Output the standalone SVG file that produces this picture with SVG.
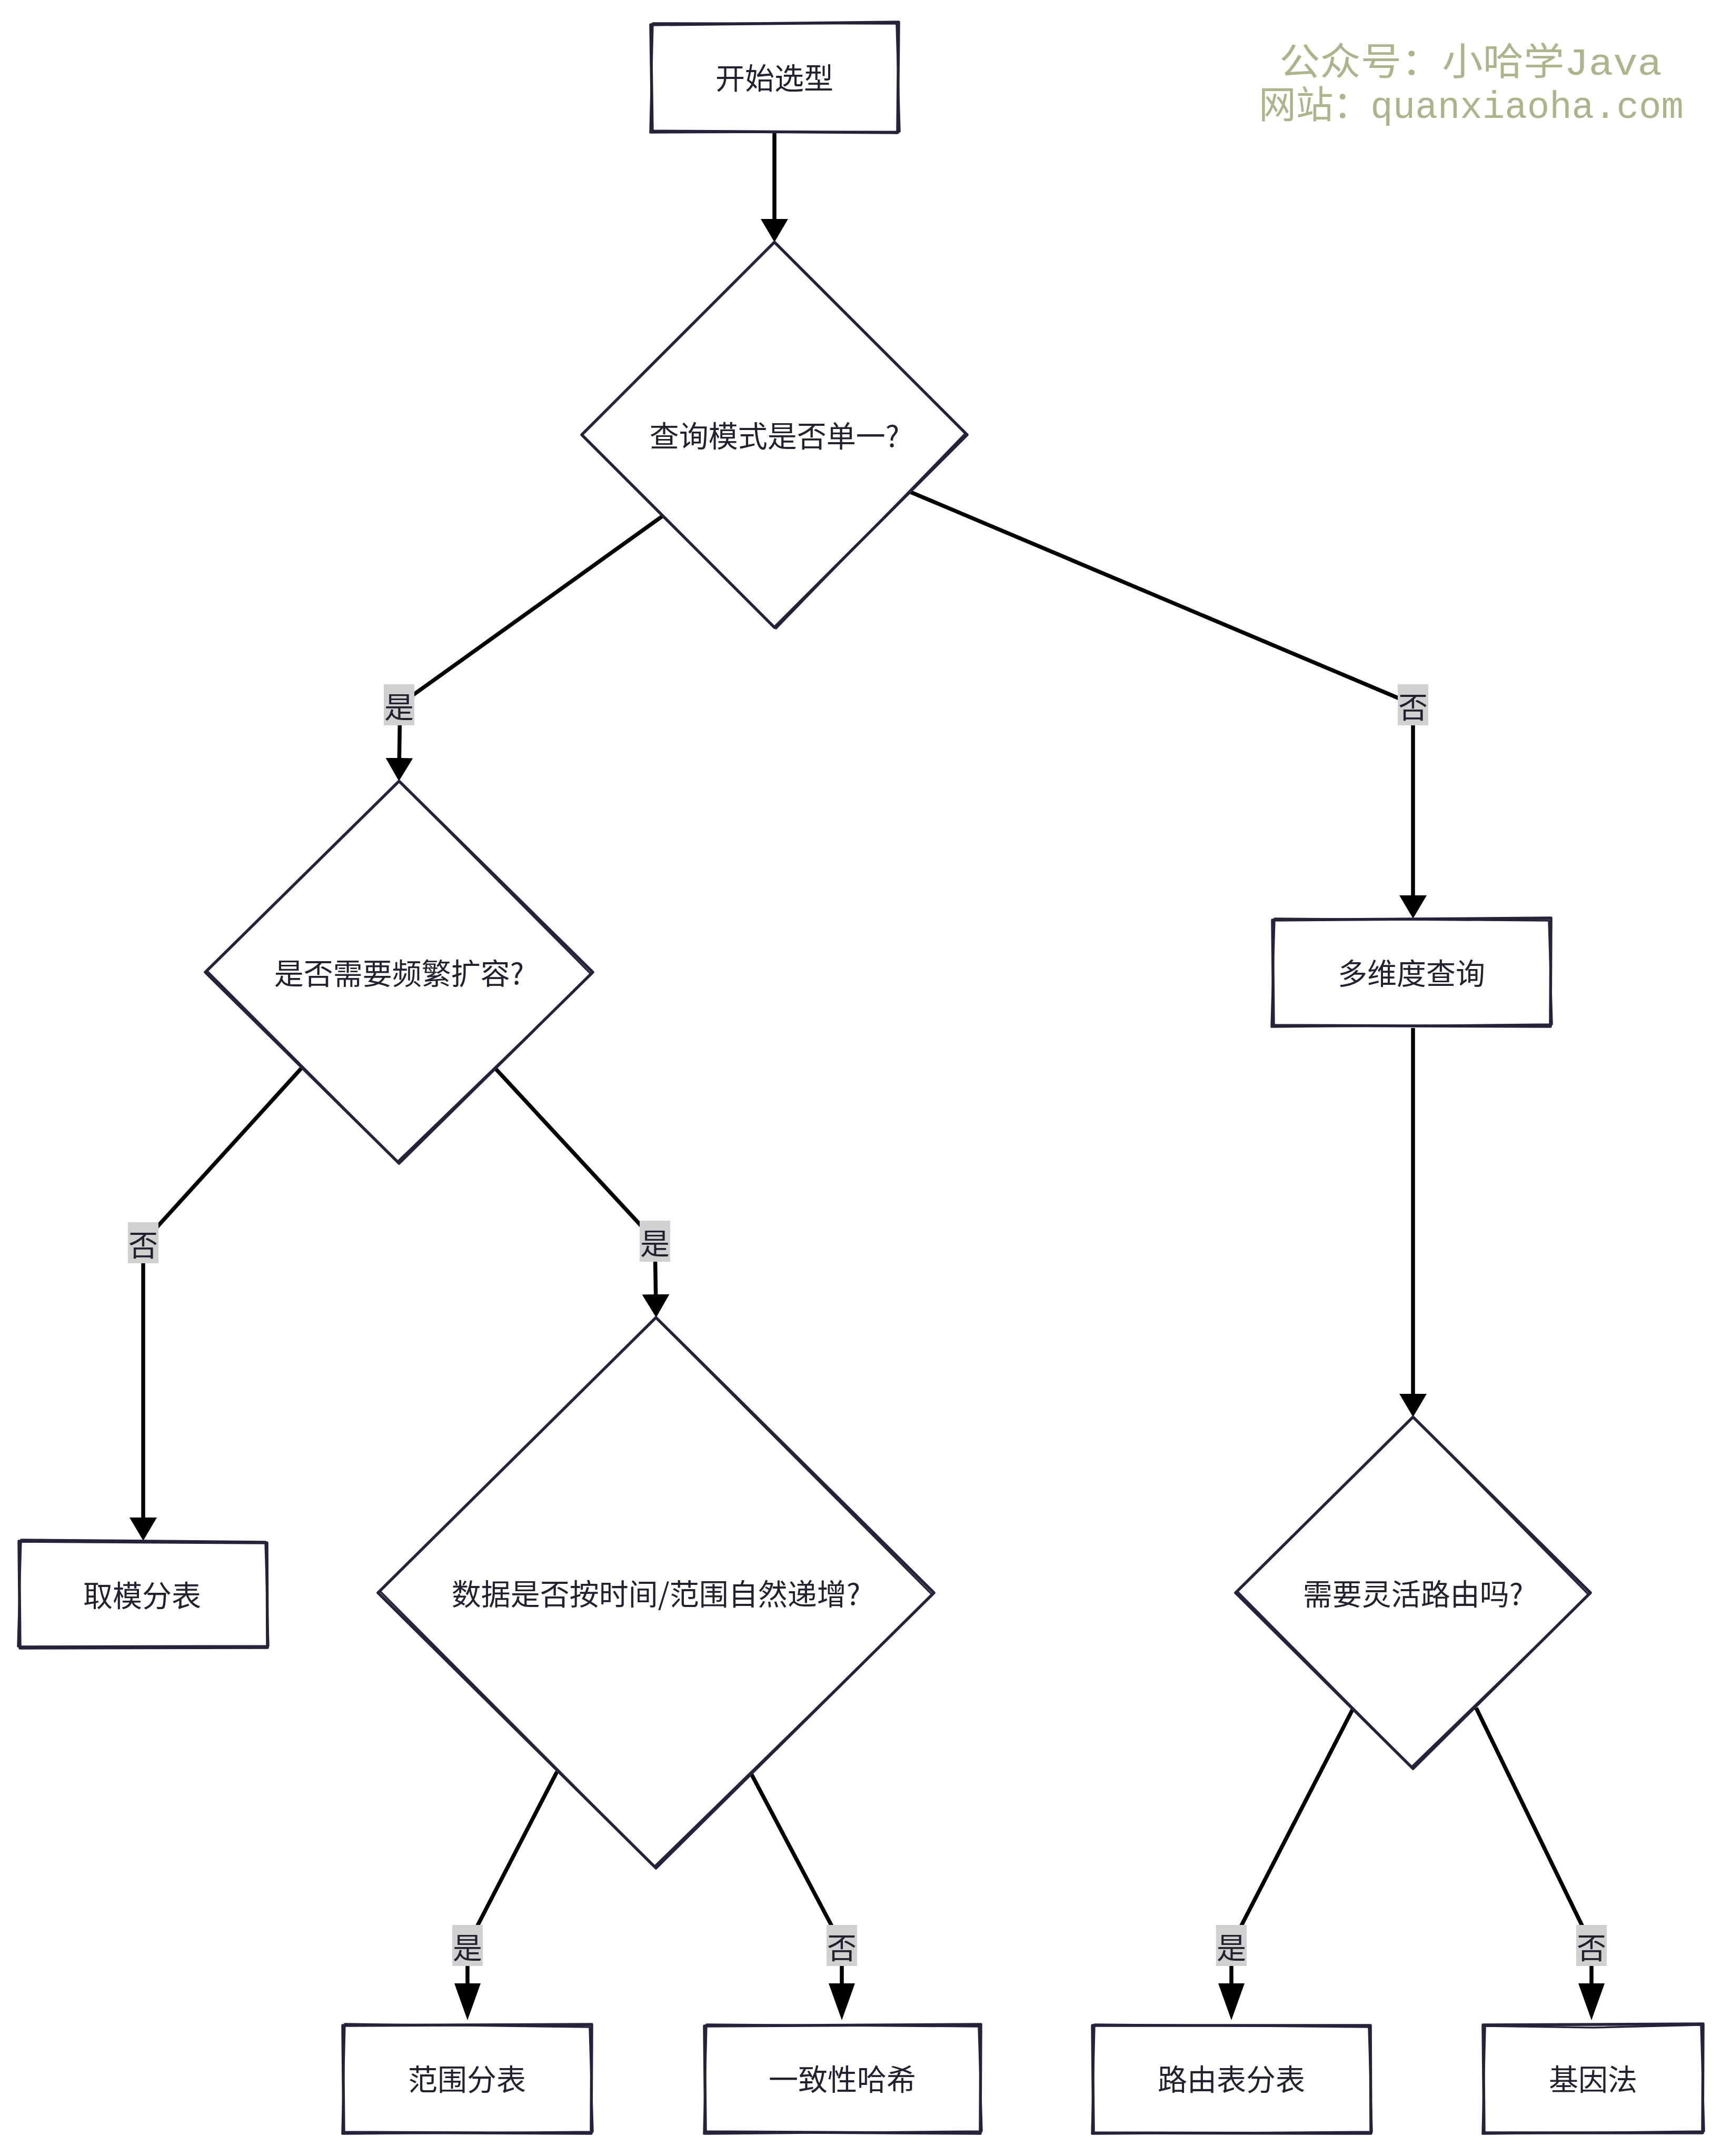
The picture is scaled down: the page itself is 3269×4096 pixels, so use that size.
<svg xmlns="http://www.w3.org/2000/svg" width="3269" height="4096" viewBox="0 0 3269 4096">
<style>
.bg{fill:#ffffff}
.s1{fill:#ffffff;stroke:#25223a;stroke-width:5.5;stroke-linejoin:round;stroke-linecap:round}
.s2{fill:none;stroke:#25223a;stroke-width:3.5;stroke-linejoin:round;stroke-linecap:round}
.conn{fill:none;stroke:#000000;stroke-width:7.5;stroke-linejoin:round}
.lb{fill:#d0d0d0}
.t{font-family:"Noto Sans CJK SC","Noto Sans",sans-serif;font-size:56px;fill:#23212f;text-anchor:middle;dominant-baseline:central}
.wm{font-family:"Liberation Mono","Noto Sans CJK SC",monospace;font-size:72px;fill:#afb38c}
</style>
<defs>
<marker id="ah" markerUnits="userSpaceOnUse" markerWidth="60" markerHeight="60" refX="24" refY="26" orient="auto"><path d="M0,0 L44,26 L0,52 Z" fill="#000000"/></marker>
<marker id="ah2" markerUnits="userSpaceOnUse" markerWidth="80" markerHeight="60" refX="50" refY="25" orient="auto"><path d="M0,0 L70,25 L0,50 Z" fill="#000000"/></marker>
</defs>
<rect class="bg" x="0" y="0" width="3269" height="4096"/>

<g id="watermark">
<text class="wm" x="2430" y="142" textLength="727" lengthAdjust="spacingAndGlyphs">公众号：小哈学Java</text>
<text class="wm" x="2391" y="224" textLength="807" lengthAdjust="spacingAndGlyphs">网站：quanxiaoha.com</text>
</g>

<g id="connectors">
<path class="conn" d="M1471,253 L1471,440" marker-end="url(#ah)"/>
<path class="conn" d="M1259,980 L760,1338 L758,1464" marker-end="url(#ah)"/>
<path class="conn" d="M1730,935 L2684,1338 L2684,1725" marker-end="url(#ah)"/>
<path class="conn" d="M2684,1953 L2684,2672" marker-end="url(#ah)"/>
<path class="conn" d="M572,2030 L272,2360 L272,2907" marker-end="url(#ah)"/>
<path class="conn" d="M941,2030 L1244,2357 L1246,2483" marker-end="url(#ah)"/>
<path class="conn" d="M1058,3366 L888,3695 L888,3818" marker-end="url(#ah2)"/>
<path class="conn" d="M1427,3370 L1599,3695 L1599,3818" marker-end="url(#ah2)"/>
<path class="conn" d="M2569,3248 L2339,3695 L2339,3818" marker-end="url(#ah2)"/>
<path class="conn" d="M2804,3245 L3023,3695 L3023,3818" marker-end="url(#ah2)"/>
<g id="labels">
<rect class="lb" x="729" y="1300" width="58" height="78"/><text class="t" x="758" y="1339">是</text>
<rect class="lb" x="2655" y="1300" width="58" height="78"/><text class="t" x="2684" y="1339">否</text>
<rect class="lb" x="243" y="2322" width="58" height="78"/><text class="t" x="272" y="2361">否</text>
<rect class="lb" x="1215" y="2319" width="58" height="78"/><text class="t" x="1244" y="2358">是</text>
<rect class="lb" x="859" y="3657" width="58" height="78"/><text class="t" x="888" y="3696">是</text>
<rect class="lb" x="1570" y="3657" width="58" height="78"/><text class="t" x="1599" y="3696">否</text>
<rect class="lb" x="2310" y="3657" width="58" height="78"/><text class="t" x="2339" y="3696">是</text>
<rect class="lb" x="2994" y="3657" width="58" height="78"/><text class="t" x="3023" y="3696">否</text>
</g>
</g>

<g id="start">
<path class="s1" d="M1236,47 L1707,42 L1705,252 L1239,249 Z"/>
<path class="s2" d="M1240,44 L1703,45 L1709,250 L1235,252 Z"/>
<text class="t" x="1471" y="144">开始选型</text>
</g>

<g id="q1">
<path class="s1" d="M1471,460 L1837,826 L1471,1192 L1105,826 Z"/>
<path class="s2" d="M1475,463 L1834,823 L1474,1194 L1108,829"/>
<text class="t" x="1471" y="824">查询模式是否单一?</text>
</g>

<g id="q2">
<path class="s1" d="M758,1484 L1126,1847 L758,2210 L390,1847 Z"/>
<path class="s2" d="M761,1487 L1123,1851 L755,2207 L393,1844"/>
<text class="t" x="758" y="1845">是否需要频繁扩容?</text>
</g>

<g id="multi">
<path class="s1" d="M2417,1748 L2946,1744 L2945,1950 L2419,1948 Z"/>
<path class="s2" d="M2421,1745 L2942,1749 L2948,1946 L2415,1951 Z"/>
<text class="t" x="2681" y="1845">多维度查询</text>
</g>

<g id="mod">
<path class="s1" d="M36,2928 L507,2931 L508,3130 L38,3131 Z"/>
<path class="s2" d="M40,2925 L504,2929 L510,3127 L34,3128 Z"/>
<text class="t" x="270" y="3027">取模分表</text>
</g>

<g id="q3">
<path class="s1" d="M1246,2503 L1774,3026 L1246,3549 L718,3026 Z"/>
<path class="s2" d="M1249,2507 L1771,3030 L1243,3546 L721,3022"/>
<text class="t" x="1246" y="3024">数据是否按时间/范围自然递增?</text>
</g>

<g id="q4">
<path class="s1" d="M2684,2692 L3021,3026 L2684,3360 L2347,3026 Z"/>
<path class="s2" d="M2687,2695 L3018,3030 L2681,3357 L2350,3023"/>
<text class="t" x="2684" y="3024">需要灵活路由吗?</text>
</g>

<g id="range">
<path class="s1" d="M651,3848 L1124,3846 L1123,4053 L653,4051 Z"/>
<path class="s2" d="M655,3845 L1120,3851 L1126,4050 L650,4054 Z"/>
<text class="t" x="887" y="3946">范围分表</text>
</g>

<g id="hash">
<path class="s1" d="M1338,3849 L1863,3846 L1862,4053 L1340,4050 Z"/>
<path class="s2" d="M1342,3846 L1859,3850 L1865,4049 L1337,4054 Z"/>
<text class="t" x="1600" y="3946">一致性哈希</text>
</g>

<g id="route">
<path class="s1" d="M2075,3848 L2603,3848 L2604,4053 L2077,4052 Z"/>
<path class="s2" d="M2079,3846 L2600,3851 L2606,4050 L2074,4054 Z"/>
<text class="t" x="2339" y="3946">路由表分表</text>
</g>

<g id="gene">
<path class="s1" d="M2817,3847 L3235,3845 L3234,4052 L2819,4052 Z"/>
<path class="s2" d="M2821,3849 L3026,3852 L3231,3847 L3237,4049 L2816,4054 Z"/>
<text class="t" x="3026" y="3946">基因法</text>
</g>
</svg>
